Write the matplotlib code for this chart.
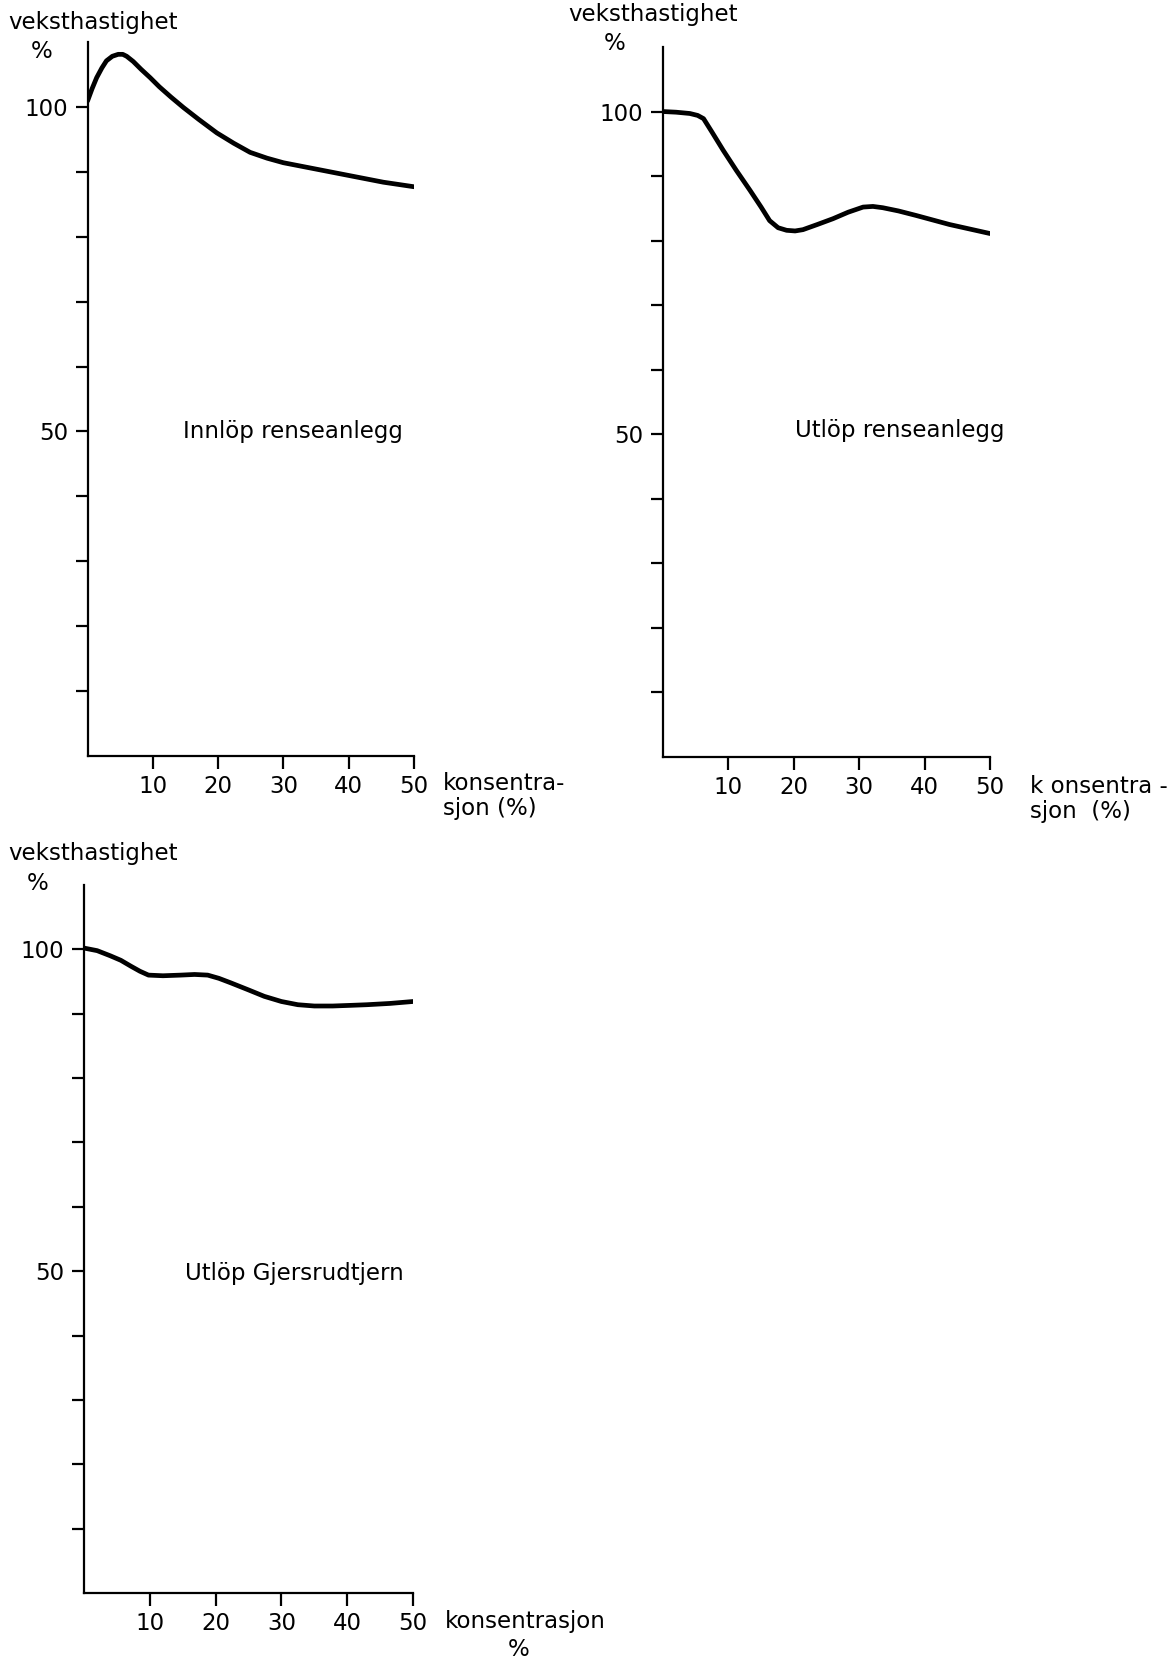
import matplotlib
matplotlib.use("Agg")
import matplotlib.pyplot as plt

# ---- data ----
conc_innlop = [0, 0.7, 1.4, 2.2, 2.9, 3.8, 4.7, 5.4, 6.0, 7.0, 8.2, 9.6, 11.0, 12.8, 14.7,
               17.0, 19.8, 22.4, 24.9, 27.5, 30.0, 35.1, 40.2, 45.3, 50.0]
rate_innlop = [100.9, 102.8, 104.5, 106.0, 107.1, 107.8, 108.1, 108.1, 107.8, 107.0, 105.8,
               104.5, 103.1, 101.5, 99.9, 98.1, 96.0, 94.4, 93.0, 92.1, 91.4, 90.4, 89.4, 88.4, 87.7]

conc_utlop = [0, 2.0, 4.1, 5.3, 6.2, 7.5, 9.2, 11.2, 13.3, 15.0, 16.3, 17.6, 18.9, 20.2, 21.4,
              23.6, 26.0, 28.3, 30.6, 32.1, 33.6, 36.0, 38.7, 43.8, 50.0]
rate_utlop = [100.0, 99.9, 99.7, 99.4, 98.9, 96.8, 94.0, 90.9, 87.8, 85.2, 83.1, 82.0, 81.6,
              81.5, 81.7, 82.5, 83.4, 84.4, 85.2, 85.3, 85.1, 84.6, 83.9, 82.5, 81.1]

conc_gjers = [0, 2.0, 4.0, 5.6, 7.1, 8.5, 9.8, 12.0, 14.7, 16.8, 18.8, 20.5, 22.3, 25.0,
              27.4, 30.0, 32.5, 35.0, 37.8, 40.5, 43.0, 46.5, 50.0]
rate_gjers = [100.2, 99.8, 99.0, 98.3, 97.4, 96.6, 96.0, 95.9, 96.0, 96.1, 96.0, 95.5, 94.8,
              93.7, 92.7, 91.9, 91.4, 91.2, 91.2, 91.3, 91.4, 91.6, 91.9]

x_ticks = [10, 20, 30, 40, 50]
y_ticks = [10, 20, 30, 40, 50, 60, 70, 80, 90, 100]
y_labels = ["", "", "", "", "50", "", "", "", "", "100"]

titles = ["Innlöp renseanlegg", "Utlöp renseanlegg", "Utlöp Gjersrudtjern"]
ylabel_txt = "veksthastighet"
xlabels = ["konsentra-\nsjon (%)", "k onsentra -\nsjon  (%)", "konsentrasjon\n%"]

plt.rcParams["font.family"] = ["DejaVu Sans"]

W, H = 1176, 1659
fig = plt.figure(figsize=(W / 100, H / 100), dpi=100)


def axrect(l, r, b, t):
    return [l / W, 1 - b / H, (r - l) / W, (b - t) / H]


rects = [axrect(87.5, 414, 756, 42), axrect(663, 990, 757, 47), axrect(84, 413, 1593, 885)]
series = [(conc_innlop, rate_innlop), (conc_utlop, rate_utlop), (conc_gjers, rate_gjers)]
title_pos = [(14.6, 50.0), (20.2, 50.6), (15.3, 49.7)]

for i, (rect, (xs, ys)) in enumerate(zip(rects, series)):
    ax = fig.add_axes(rect)
    ax.plot(xs, ys, color="black", lw=3.4, solid_joinstyle="round", solid_capstyle="round")
    ax.set_xlim(0, 50)
    ax.set_ylim(0, 110)
    for s in ["top", "right"]:
        ax.spines[s].set_visible(False)
    for s in ["left", "bottom"]:
        ax.spines[s].set_linewidth(1.6)
    ax.set_xticks(x_ticks)
    ax.set_xticklabels([str(v) for v in x_ticks])
    ax.set_yticks(y_ticks)
    ax.set_yticklabels(y_labels)
    ax.tick_params(direction="out", length=9, width=1.6, labelsize=16.5, pad=5)
    tx, ty = title_pos[i]
    ax.text(tx, ty, titles[i], fontsize=16.5, ha="left", va="center")

# y-axis labels
fig.text(8 / W, 1 - 29 / H, ylabel_txt, fontsize=16.5, ha="left", va="baseline")
fig.text(42 / W, 1 - 52 / H, "%", fontsize=16.5, ha="center", va="center")
fig.text(568 / W, 1 - 21 / H, ylabel_txt, fontsize=16.5, ha="left", va="baseline")
fig.text(615 / W, 1 - 43 / H, "%", fontsize=16.5, ha="center", va="center")
fig.text(8 / W, 1 - 860 / H, ylabel_txt, fontsize=16.5, ha="left", va="baseline")
fig.text(38 / W, 1 - 884 / H, "%", fontsize=16.5, ha="center", va="center")

# x-axis labels
fig.text(443 / W, 1 - 772 / H, xlabels[0], fontsize=16.5, ha="left", va="top", linespacing=1.1)
fig.text(1030 / W, 1 - 775 / H, xlabels[1], fontsize=16.5, ha="left", va="top", linespacing=1.1)
fig.text(445 / W, 1 - 1610 / H, "konsentrasjon", fontsize=16.5, ha="left", va="top")
fig.text(519 / W, 1 - 1638 / H, "%", fontsize=16.5, ha="center", va="top")

fig.savefig("out.png", dpi=100, facecolor="white")
